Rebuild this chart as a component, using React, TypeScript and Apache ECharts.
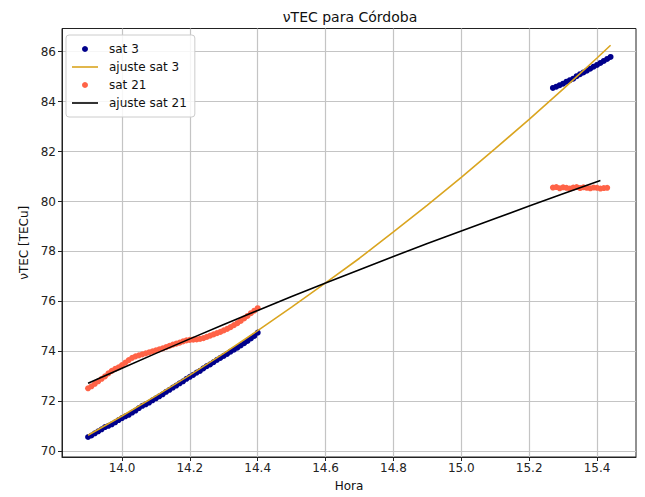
import React, { useEffect, useRef } from "react";
import * as echarts from "echarts";

// Observation times are sampled every 0.01 h starting at each pass's first hour.
const HOUR_STEP = 0.01;

// sat 3 — first pass (starts 13.90 h) and second pass (starts 15.27 h)
const sat3PassAStart = 13.9;
const sat3PassA = [
  70.57, 70.63, 70.72, 70.8, 70.88, 70.97, 71.02, 71.08, 71.16, 71.25,
  71.33, 71.4, 71.46, 71.55, 71.63, 71.73, 71.82, 71.88, 71.95, 72.04,
  72.12, 72.2, 72.28, 72.38, 72.46, 72.55, 72.63, 72.72, 72.8, 72.9,
  72.98, 73.06, 73.15, 73.22, 73.32, 73.41, 73.48, 73.57, 73.66, 73.74,
  73.82, 73.9, 73.99, 74.07, 74.15, 74.24, 74.33, 74.42, 74.52, 74.62,
  74.75,
];
const sat3PassBStart = 15.27;
const sat3PassB = [
  84.55, 84.6, 84.66, 84.72, 84.8, 84.86, 84.92, 85.02, 85.1, 85.17,
  85.24, 85.32, 85.4, 85.47, 85.55, 85.63, 85.71, 85.79,
];

// sat 21 — first pass (starts 13.90 h) and second pass (starts 15.27 h)
const sat21PassAStart = 13.9;
const sat21PassA = [
  72.52, 72.6, 72.7, 72.8, 72.9, 73.0, 73.12, 73.22, 73.3, 73.36,
  73.45, 73.55, 73.65, 73.74, 73.8, 73.84, 73.88, 73.92, 73.96, 74.0,
  74.04, 74.08, 74.12, 74.17, 74.22, 74.27, 74.31, 74.35, 74.4, 74.44,
  74.46, 74.47, 74.48, 74.5, 74.53, 74.58, 74.63, 74.68, 74.73, 74.78,
  74.84, 74.9, 74.97, 75.05, 75.13, 75.22, 75.32, 75.42, 75.53, 75.63,
  75.73,
];
const sat21PassBStart = 15.27;
const sat21PassB = [
  80.56, 80.58, 80.53, 80.57, 80.55, 80.52, 80.56, 80.58, 80.54, 80.57,
  80.55, 80.53, 80.56, 80.55, 80.52, 80.54, 80.55,
];

// Fitted curves
const fit3Hours = [13.9, 14.0, 14.1, 14.2, 14.3, 14.4, 14.5, 14.6, 14.7, 14.8, 14.9, 15.0, 15.1, 15.2, 15.3, 15.4, 15.44];
const fit3Values = [70.64, 71.41, 72.22, 73.05, 73.92, 74.83, 75.77, 76.74, 77.73, 78.79, 79.86, 80.97, 82.12, 83.29, 84.5, 85.75, 86.26];
const fit21Hours = [13.9, 14.0, 14.1, 14.2, 14.3, 14.4, 14.5, 14.6, 14.7, 14.8, 14.9, 15.0, 15.1, 15.2, 15.3, 15.41];
const fit21Values = [72.72, 73.32, 73.92, 74.5, 75.08, 75.64, 76.2, 76.74, 77.27, 77.8, 78.32, 78.82, 79.32, 79.82, 80.31, 80.84];

// Axis ticks
const xTicks = [14.0, 14.2, 14.4, 14.6, 14.8, 15.0, 15.2, 15.4];
const yTicks = [70, 72, 74, 76, 78, 80, 82, 84, 86];

const pass = (start: number, values: number[]) =>
  values.map((v, i) => [Number((start + i * HOUR_STEP).toFixed(2)), v]);
const pairs = (xs: number[], ys: number[]) => xs.map((x, i) => [x, ys[i]]);

const FONT = "DejaVu Sans";
const LINE_ICON = "path://M0 0H26V1.6H0Z";

export default function App() {
  const ref = useRef<HTMLDivElement>(null);

  useEffect(() => {
    if (!ref.current) return;
    const chart = echarts.init(ref.current, undefined, { renderer: "svg" });

    const axisLabel = { color: "#222", fontFamily: FONT, fontSize: 12 };

    chart.setOption({
      animation: false,
      backgroundColor: "#fff",
      title: {
        text: "νTEC para Córdoba",
        left: 345,
        top: 5,
        textAlign: "center",
        textStyle: { fontFamily: FONT, fontSize: 14, fontWeight: "normal", color: "#111" },
      },
      legend: {
        left: 66,
        top: 35,
        orient: "vertical",
        itemWidth: 26,
        itemHeight: 6,
        itemGap: 4,
        padding: [7, 8, 7, 6],
        backgroundColor: "rgba(255,255,255,0.85)",
        borderColor: "#ccc",
        borderWidth: 1,
        borderRadius: 3,
        textStyle: { fontFamily: FONT, fontSize: 12, color: "#111", lineHeight: 14, padding: [0, 0, 0, 6] },
        data: [
          { name: "sat 3", icon: "circle" },
          { name: "ajuste sat 3", icon: LINE_ICON },
          { name: "sat 21", icon: "circle" },
          { name: "ajuste sat 21", icon: LINE_ICON },
        ],
      },
      grid: {
        left: 62,
        top: 28.5,
        width: 574,
        height: 429,
        show: true,
        borderColor: "#222",
        borderWidth: 1,
        backgroundColor: "transparent",
      },
      xAxis: {
        type: "value",
        min: 13.8232,
        max: 15.5149,
        name: "Hora",
        nameLocation: "middle",
        nameGap: 23,
        nameTextStyle: { fontFamily: FONT, fontSize: 12, color: "#111" },
        axisLine: { show: true, onZero: false, lineStyle: { color: "#222" } },
        axisTick: { show: true, length: 4, customValues: xTicks, lineStyle: { color: "#222" } },
        axisLabel: {
          ...axisLabel,
          margin: 5,
          customValues: xTicks,
          formatter: (v: number) => v.toFixed(1),
        },
        splitLine: { show: true, lineStyle: { color: "#c4c4c4", width: 1.2 } },
      },
      yAxis: {
        type: "value",
        min: 69.77,
        max: 86.93,
        name: "νTEC [TECu]",
        nameLocation: "middle",
        nameGap: 24,
        nameTextStyle: { fontFamily: FONT, fontSize: 12, color: "#111" },
        axisLine: { show: true, onZero: false, lineStyle: { color: "#222" } },
        axisTick: { show: true, length: 4, customValues: yTicks, lineStyle: { color: "#222" } },
        axisLabel: { ...axisLabel, margin: 6, customValues: yTicks },
        splitLine: { show: true, lineStyle: { color: "#c4c4c4", width: 1.2 } },
      },
      series: [
        {
          name: "sat 3",
          type: "scatter",
          symbolSize: 6,
          itemStyle: { color: "#00008b", opacity: 1 },
          data: [...pass(sat3PassAStart, sat3PassA), ...pass(sat3PassBStart, sat3PassB)],
        },
        {
          name: "ajuste sat 3",
          type: "line",
          showSymbol: false,
          symbol: "none",
          lineStyle: { color: "#daa520", width: 1.6 },
          itemStyle: { color: "#daa520" },
          data: pairs(fit3Hours, fit3Values),
        },
        {
          name: "sat 21",
          type: "scatter",
          symbolSize: 6,
          itemStyle: { color: "#ff6347", opacity: 1 },
          data: [...pass(sat21PassAStart, sat21PassA), ...pass(sat21PassBStart, sat21PassB)],
        },
        {
          name: "ajuste sat 21",
          type: "line",
          showSymbol: false,
          symbol: "none",
          lineStyle: { color: "#000", width: 1.6 },
          itemStyle: { color: "#000" },
          data: pairs(fit21Hours, fit21Values),
        },
      ],
    });

    return () => chart.dispose();
  }, []);

  return (
    <div
      ref={ref}
      style={{ position: "fixed", left: 0, top: 0, width: 645, height: 497 }}
    />
  );
}
